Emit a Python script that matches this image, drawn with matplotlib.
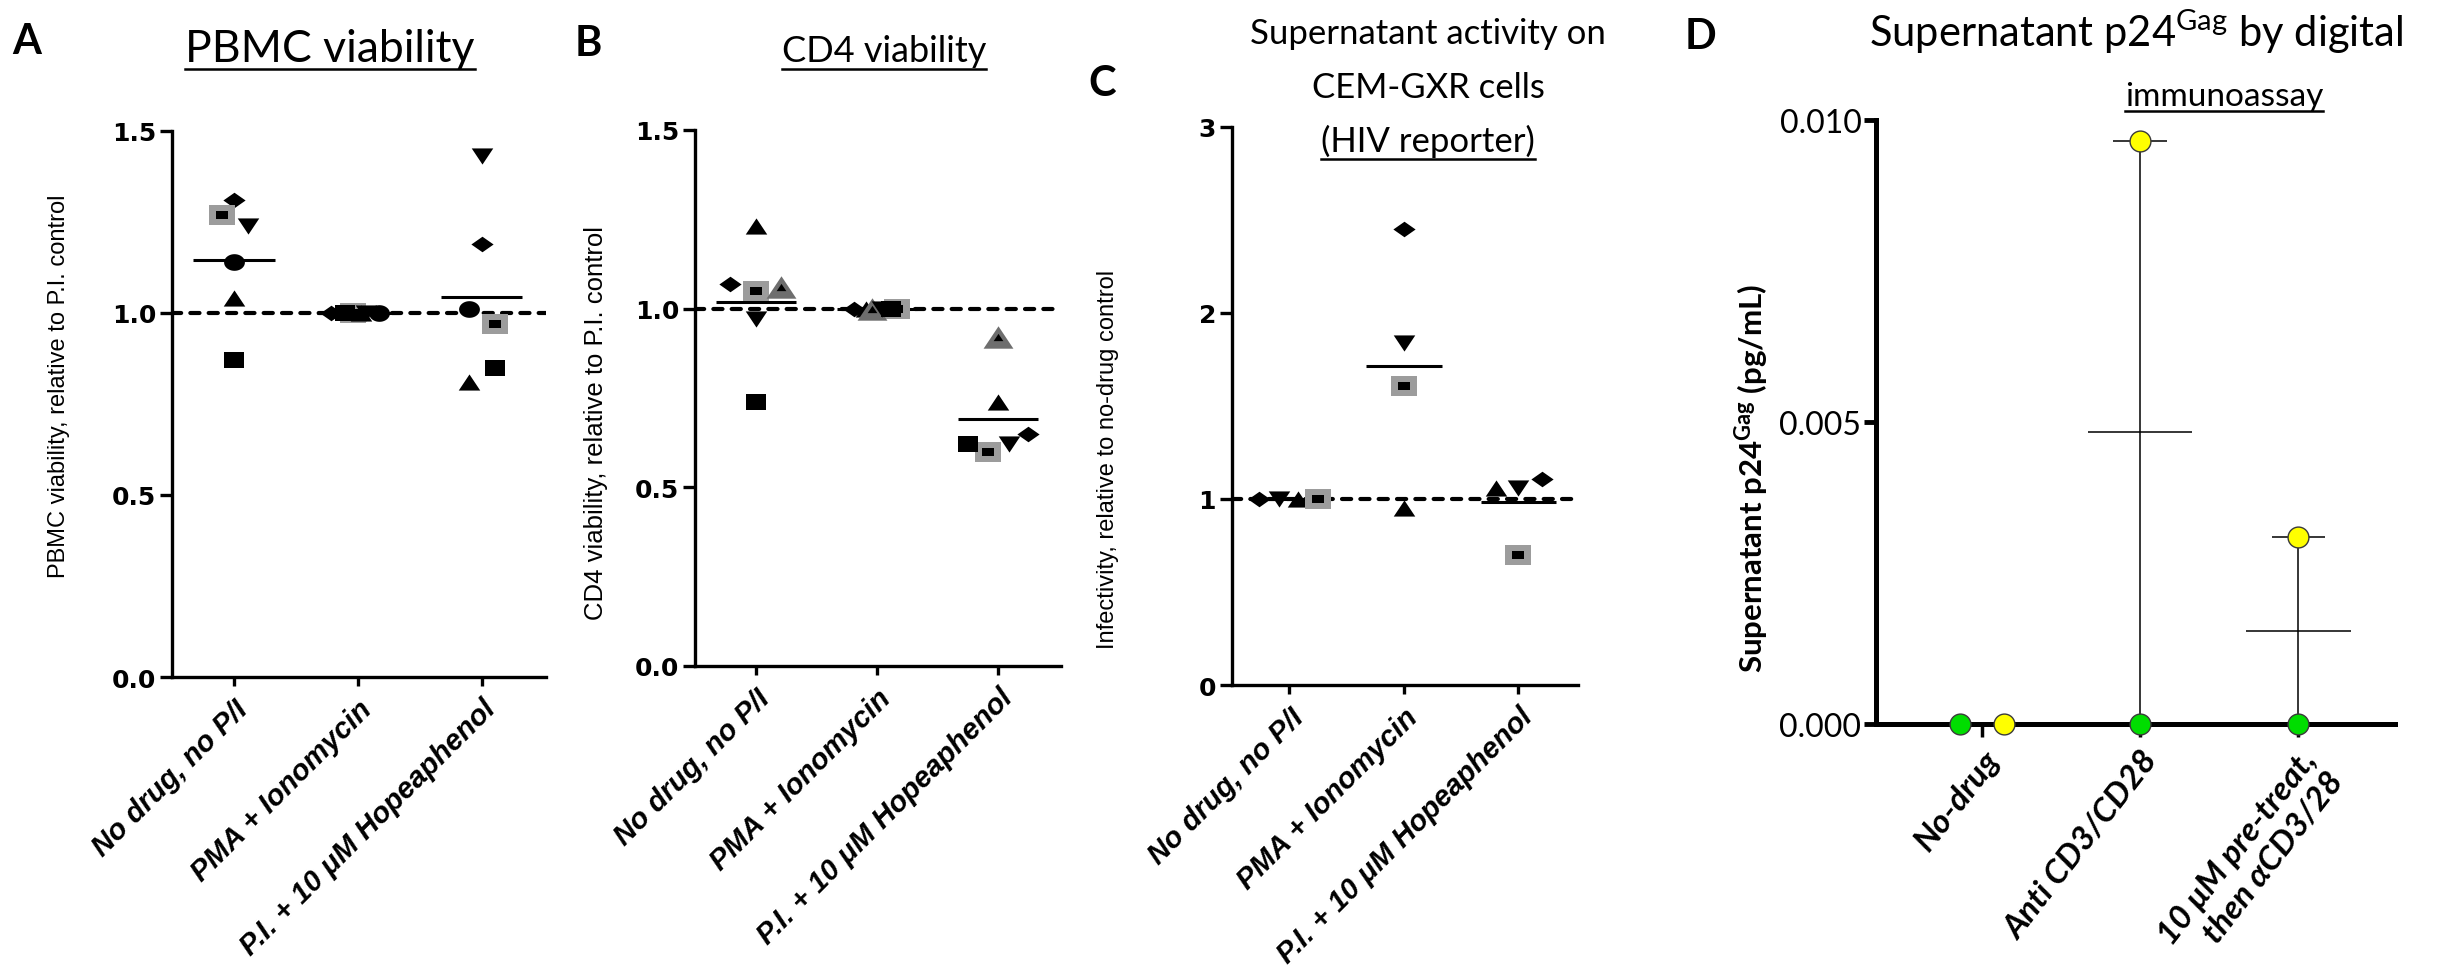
import numpy as np
import matplotlib
matplotlib.use("Agg")
import matplotlib.pyplot as plt
from matplotlib.lines import Line2D

W, H = 2440, 978

# ---- categories ----
cats_abc = ["No drug, no P/I", "PMA + Ionomycin", "P.I. + 10 \u03bcM Hopeaphenol"]
cats_d = ["No-drug", "Anti CD3/CD28", "10 \u03bcM pre-treat,\nthen \u03b1CD3/28"]

# ---- A: PBMC viability, relative to P.I. control (one value per donor) ----
pbmc_donors = ["diamond", "grey_square", "down", "circle", "up", "square"]
pbmc_nodrug = [1.31, 1.27, 1.24, 1.14, 1.04, 0.87]
pbmc_pi = [1.00, 1.00, 1.00, 1.00, 1.00, 1.00]
pbmc_hope = [1.19, 0.97, 1.43, 1.01, 0.81, 0.85]

# ---- B: CD4 viability, relative to P.I. control ----
cd4_donors = ["up", "diamond", "grey_square", "grey_up", "down", "square"]
cd4_nodrug = [1.23, 1.07, 1.05, 1.06, 0.97, 0.74]
cd4_pi = [1.00, 1.00, 1.00, 1.00, 1.00, 1.00]
cd4_hope = [0.74, 0.65, 0.60, 0.92, 0.62, 0.62]

# ---- C: infectivity, relative to no-drug control ----
inf_donors = ["diamond", "down", "up", "grey_square"]
inf_nodrug = [1.00, 1.00, 1.00, 1.00]
inf_pi = [2.45, 1.84, 0.95, 1.61]
inf_hope = [1.11, 1.06, 1.06, 0.70]

# ---- D: supernatant p24 (pg/mL), two donors ----
p24_green = [0.0, 0.0, 0.0]
p24_yellow = [0.0, 0.00966, 0.00309]

# horizontal spread of the points inside each group (layout only)
pbmc_jit = [[0, -0.10, 0.11, 0, 0, 0],
            [-0.22, -0.04, 0.07, 0.17, 0.03, -0.10],
            [0, 0.11, 0, -0.10, -0.10, 0.11]]
cd4_jit = [[0, -0.21, 0, 0.21, 0, 0],
           [-0.09, -0.19, 0.17, -0.04, 0.04, 0.12],
           [0, 0.25, -0.08, 0, 0.09, -0.25]]
inf_jit = [[-0.26, -0.09, 0.08, 0.25],
           [0, 0, 0, 0],
           [0.21, 0, -0.20, 0]]
d_jit_green = [-0.14, 0, 0]
d_jit_yellow = [0.14, 0, 0]

plt.rcParams["mathtext.fontset"] = "custom"
plt.rcParams["mathtext.rm"] = "Lato"
plt.rcParams["mathtext.bf"] = "Lato:bold"

t = np.linspace(0, 2 * np.pi, 40, endpoint=False)
SHAPES = {
    "diamond": [(-1, 0), (0, 0.7), (1, 0), (0, -0.7), (-1, 0)],
    "up": [(0, 0.75), (-1, -0.75), (1, -0.75), (0, 0.75)],
    "down": [(0, -0.75), (-1, 0.75), (1, 0.75), (0, -0.75)],
    "square": [(-1, -0.75), (1, -0.75), (1, 0.75), (-1, 0.75), (-1, -0.75)],
    "circle": list(zip(np.cos(t), 0.8 * np.sin(t))),
}
SIZES = {"diamond": 16, "up": 15.5, "down": 15.5, "square": 15, "circle": 15}


def put(ax, xs, ys, kind):
    kw = dict(ls="none", zorder=5, clip_on=False, markeredgewidth=0)
    if kind == "grey_square":
        ax.plot(xs, ys, marker=SHAPES["square"], ms=19, color="#9c9c9c", **kw)
        ax.plot(xs, ys, marker=SHAPES["square"], ms=8, color="k", **kw)
    elif kind == "grey_up":
        ax.plot(xs, ys, marker=SHAPES["up"], ms=21.5, color="#6e6e6e", **kw)
        ax.plot(xs, ys, marker=SHAPES["up"], ms=7, color="k", **kw)
    else:
        ax.plot(xs, ys, marker=SHAPES[kind], ms=SIZES[kind], color="k", **kw)


def add_ax(l, t, r, b):
    return fig.add_axes([l / W, 1 - b / H, (r - l) / W, (b - t) / H])


def dot_panel(ax, cols, donors, jit, ylim, yticks, ylabels):
    for d, kind in enumerate(donors):
        xs = [g + jit[g][d] for g in range(3)]
        ys = [cols[g][d] for g in range(3)]
        put(ax, xs, ys, kind)
    for g in range(3):
        ax.hlines(np.mean(cols[g]), g - 0.33, g + 0.33, color="k", lw=2.2, zorder=4)
    ax.axhline(1.0, color="k", lw=3, ls=(0, (2.2, 2.2)), dash_capstyle="round", zorder=3)
    ax.set_xlim(-0.5, 2.52)
    ax.set_ylim(*ylim)
    for s in ["top", "right"]:
        ax.spines[s].set_visible(False)
    for s in ["left", "bottom"]:
        ax.spines[s].set_linewidth(2.4)
    ax.set_yticks(yticks)
    ax.set_yticklabels(ylabels, family="DejaVu Sans", fontweight="bold", fontsize=18)
    ax.tick_params(axis="y", length=8.5, width=2.4, pad=3)
    ax.set_xticks([0, 1, 2])
    ax.set_xticklabels(cats_abc, rotation=45, ha="right", va="top", rotation_mode="anchor",
                       family="Liberation Sans", fontweight="bold", fontstyle="italic", fontsize=21)
    ax.tick_params(axis="x", length=6.5, width=2.4, pad=6)


def ftext(x, y, s, **kw):
    return fig.text(x / W, 1 - y / H, s, **kw)


def underline(txt, y, lw=1.8):
    bb = txt.get_window_extent(renderer=fig.canvas.get_renderer())
    fig.add_artist(Line2D([bb.x0 / W, bb.x1 / W], [1 - y / H, 1 - y / H],
                          transform=fig.transFigure, color="k", lw=lw))


fig = plt.figure(figsize=(W / 100, H / 100), dpi=100)

axA = add_ax(172, 132, 546, 678)
axB = add_ax(695, 131, 1061, 667)
axC = add_ax(1232, 128, 1578, 686)
axD = add_ax(1876, 121, 2395, 725)

dot_panel(axA, [pbmc_nodrug, pbmc_pi, pbmc_hope], pbmc_donors, pbmc_jit,
          (0, 1.5), [0, 0.5, 1.0, 1.5], ["0.0", "0.5", "1.0", "1.5"])
dot_panel(axB, [cd4_nodrug, cd4_pi, cd4_hope], cd4_donors, cd4_jit,
          (0, 1.5), [0, 0.5, 1.0, 1.5], ["0.0", "0.5", "1.0", "1.5"])
dot_panel(axC, [inf_nodrug, inf_pi, inf_hope], inf_donors, inf_jit,
          (0, 3), [0, 1, 2, 3], ["0", "1", "2", "3"])

# ---- panel D: mean with range ----
for g in range(3):
    vals = [p24_green[g], p24_yellow[g]]
    lo, hi, m = min(vals), max(vals), np.mean(vals)
    axD.vlines(g, lo, hi, color="k", lw=1.1, zorder=3)
    axD.hlines([lo, hi], g - 0.17, g + 0.17, color="k", lw=1.1, zorder=3)
    axD.hlines(m, g - 0.33, g + 0.33, color="k", lw=1.1, zorder=3)
axD.plot(np.arange(3) + np.array(d_jit_green), p24_green, "o", ms=15, color="#00dd00",
         mec="#3a3a3a", mew=1.0, ls="none", zorder=6, clip_on=False)
axD.plot(np.arange(3) + np.array(d_jit_yellow), p24_yellow, "o", ms=15, color="#ffff00",
         mec="#3a3a3a", mew=1.0, ls="none", zorder=6, clip_on=False)
axD.set_xlim(-0.67, 2.61)
axD.set_ylim(0, 0.010)
for s in ["top", "right"]:
    axD.spines[s].set_visible(False)
for s in ["left", "bottom"]:
    axD.spines[s].set_linewidth(3.6)
axD.set_yticks([0, 0.005, 0.010])
axD.set_yticklabels(["0.000", "0.005", "0.010"], family="Lato", fontsize=23)
axD.tick_params(axis="y", length=8.5, width=3.5, pad=2)
axD.set_xticks([0, 1, 2])
axD.set_xticklabels(cats_d, rotation=52, ha="right", va="top", rotation_mode="anchor",
                    family=["Lato", "DejaVu Sans"], fontweight="bold", fontstyle="italic", fontsize=24)
axD.tick_params(axis="x", length=9, width=2.5, pad=6)

# ---- panel letters ----
for ch, x, y in [("A", 27, 42), ("B", 588, 44), ("C", 1102, 84), ("D", 1701, 37)]:
    ftext(x, y, ch, ha="center", va="center", family="Lato", fontweight="bold", fontsize=30)

# ---- titles ----
tA = ftext(330, 62, "PBMC viability", ha="center", va="baseline", family="Lato", fontsize=32)
tB = ftext(884, 62, "CD4 viability", ha="center", va="baseline", family="Lato", fontsize=26)
ftext(1428, 44, "Supernatant activity on", ha="center", va="baseline", family="Lato", fontsize=25)
ftext(1428, 98, "CEM-GXR cells", ha="center", va="baseline", family="Lato", fontsize=25)
tC = ftext(1428, 152, "(HIV reporter)", ha="center", va="baseline", family="Lato", fontsize=25)
ftext(2136, 47, "Supernatant p24$^{\\mathrm{Gag}}$ by digital", ha="center", va="baseline",
      family="Lato", fontsize=30)
tD = ftext(2224, 106, "immunoassay", ha="center", va="baseline", family="Lato", fontsize=24)

# ---- y labels ----
ftext(59, 386, "PBMC viability, relative to P.I. control", rotation=90, ha="center", va="center",
      family="Liberation Sans", fontsize=17)
ftext(596, 423, "CD4 viability, relative to P.I. control", rotation=90, ha="center", va="center",
      family="Liberation Sans", fontsize=18.5)
ftext(1108, 459, "Infectivity, relative to no-drug control", rotation=90, ha="center", va="center",
      family="Liberation Sans", fontsize=17)
ftext(1752, 478, "Supernatant p24$^{\\mathbf{Gag}}$ (pg/mL)", rotation=90, ha="center", va="center",
      family="Lato", fontweight="bold", fontsize=22.5)

fig.canvas.draw()
underline(tA, 70)
underline(tB, 70)
underline(tC, 160)
underline(tD, 112)

fig.savefig("out.png", dpi=100)
